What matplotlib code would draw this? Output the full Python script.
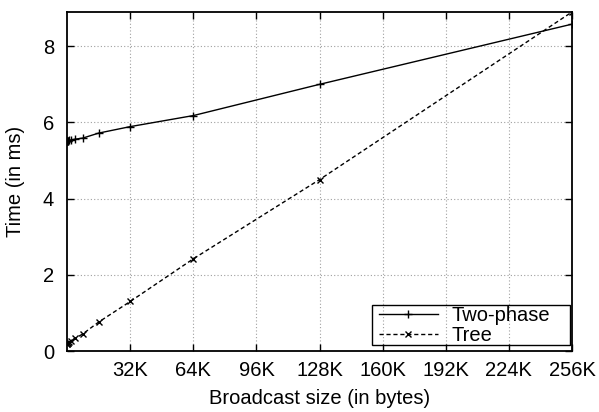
import numpy as np
import matplotlib
matplotlib.use("Agg")
import matplotlib.pyplot as plt
from matplotlib.patches import Rectangle

# broadcast sizes in bytes
sizes = [64, 128, 256, 512, 1024, 2048, 4096, 8192, 16384, 32768, 65536, 131072, 262144]
two_phase = [5.51, 5.51, 5.52, 5.52, 5.53, 5.54, 5.56, 5.59, 5.72, 5.89, 6.18, 7.00, 8.58]
tree = [0.19, 0.19, 0.20, 0.21, 0.23, 0.27, 0.33, 0.45, 0.76, 1.30, 2.42, 4.50, 8.90]

xticks = [32768 * i for i in range(1, 9)]
xticklabels = ["32K", "64K", "96K", "128K", "160K", "192K", "224K", "256K"]
yticks = [0, 2, 4, 6, 8]

plt.rcParams['font.family'] = ['Liberation Sans', 'DejaVu Sans']
plt.rcParams['font.size'] = 14.5

fig = plt.figure(figsize=(5.99, 4.12), dpi=100)
ax = fig.add_axes([0.112, 0.148, 0.843, 0.823])

ax.plot(sizes, two_phase, color='black', lw=1.0, marker='+', ms=6, mew=1.0,
        label='Two-phase')
ax.plot(sizes, tree, color='black', lw=1.0, ls=(0, (3, 2)), marker='x', ms=5,
        mew=1.0, label='Tree')

ax.set_xlim(0, 262144)
ax.set_ylim(0, 8.9)
ax.set_xticks(xticks)
ax.set_xticklabels(xticklabels)
ax.set_yticks(yticks)
ax.tick_params(direction='in', top=True, right=True, length=5, width=1)
ax.tick_params(axis='x', pad=7.5)
ax.tick_params(axis='y', pad=9.5)
ax.grid(True, color='#a0a0a0', ls=(0, (1, 2)), lw=0.8)
for s in ax.spines.values():
    s.set_linewidth(1.3)

ax.set_xlabel('Broadcast size (in bytes)', labelpad=6)
ax.set_ylabel('Time (in ms)', labelpad=13)

# legend, framed by hand to get gnuplot-like padding
leg = ax.legend(loc='upper left', bbox_to_anchor=(0.618, 0.132), frameon=False,
                handlelength=2.9, borderpad=0.0, labelspacing=0.06,
                handletextpad=0.7, borderaxespad=0.0)
ax.add_patch(Rectangle((0.604, 0.018), 0.392, 0.117, transform=ax.transAxes,
                       fill=False, edgecolor='black', lw=1.0, zorder=5))

fig.savefig('out.png', dpi=100)
